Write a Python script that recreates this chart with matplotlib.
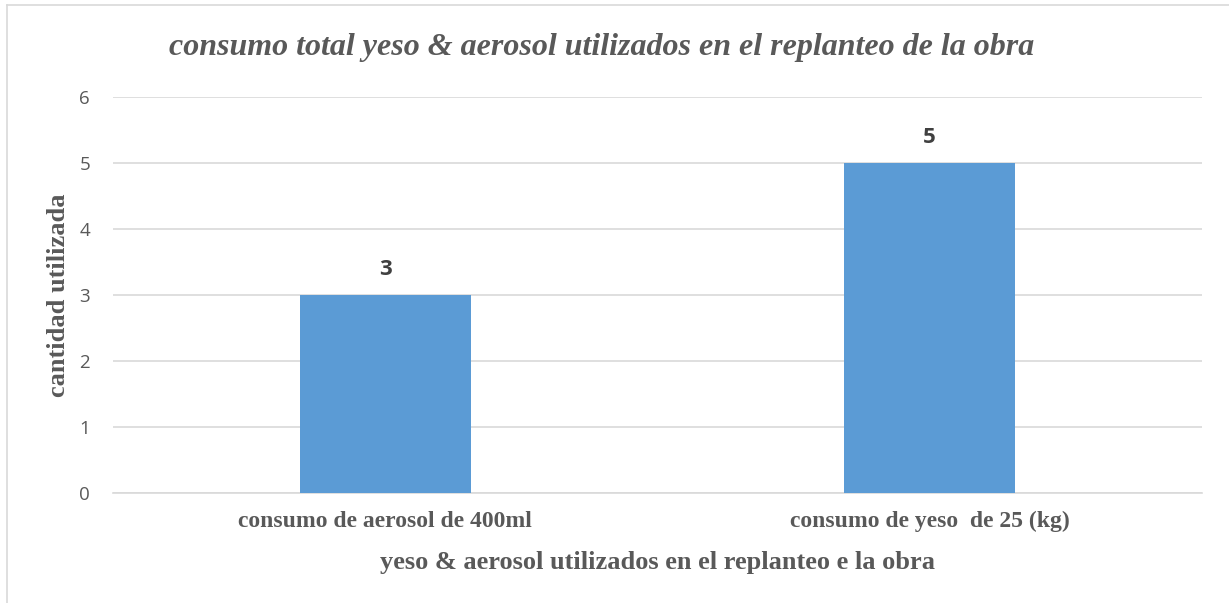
import matplotlib
matplotlib.use("Agg")
import matplotlib.pyplot as plt
from matplotlib.lines import Line2D

categories = ["consumo de aerosol de 400ml", "consumo de yeso  de 25 (kg)"]
values = [3, 5]
yticks = [0, 1, 2, 3, 4, 5, 6]

title = "consumo total yeso & aerosol utilizados en el replanteo de la obra"
xlabel = "yeso & aerosol utilizados en el replanteo e la obra"
ylabel = "cantidad utilizada"

W, H = 1229, 603
fig = plt.figure(figsize=(W/100, H/100), dpi=100)
ax = fig.add_axes([113/W, 1-493/H, (1202-113)/W, (493-97)/H])

x = list(range(len(categories)))
bars = ax.bar(x, values, width=0.314, color="#5B9BD5", zorder=3)
ax.set_xlim(-0.5, len(categories)-0.5)
ax.set_ylim(0, 6)
ax.set_yticks(yticks)
ax.set_yticklabels([str(t) for t in yticks], fontsize=13.5, color="#595959", family="Open Sans")
ax.set_xticks(x)
ax.set_xticklabels(categories, fontsize=17, fontweight="bold", color="#595959", family="Liberation Serif")
ax.tick_params(axis="both", length=0)
ax.tick_params(axis="x", pad=13)
ax.tick_params(axis="y", pad=16.5)
ax.grid(axis="y", color="#D9D9D9", linewidth=1.2, zorder=0)
for s in ["top", "right", "left"]:
    ax.spines[s].set_visible(False)
ax.spines["bottom"].set_color("#D9D9D9")
ax.spines["bottom"].set_linewidth(1.2)

for xi, v in zip(x, values):
    ax.annotate(str(v), (xi, v), xytext=(0, 14.4), textcoords="offset points",
                ha="center", va="baseline", fontsize=16, fontweight="bold",
                color="#404040", family="Open Sans")

fig.text(658/W, 1-562/H, xlabel, ha="center", va="center", fontsize=19,
         fontweight="bold", color="#595959", family="Liberation Serif")
fig.text(59/W, 1-295/H, ylabel, ha="center", va="center", rotation=90, fontsize=19,
         fontweight="bold", color="#595959", family="Liberation Serif")

fig.text(602/W, 1-55/H, title, ha="center", va="baseline", fontsize=23,
         fontweight="bold", style="italic", color="#595959", family="Liberation Serif")

# chart frame
fig.add_artist(Line2D([7/W, 1], [1-5/H, 1-5/H], color="#D9D9D9", lw=1.2, transform=fig.transFigure))
fig.add_artist(Line2D([7/W, 7/W], [0, 1-5/H], color="#D9D9D9", lw=1.2, transform=fig.transFigure))

fig.savefig("out.png", dpi=100)
